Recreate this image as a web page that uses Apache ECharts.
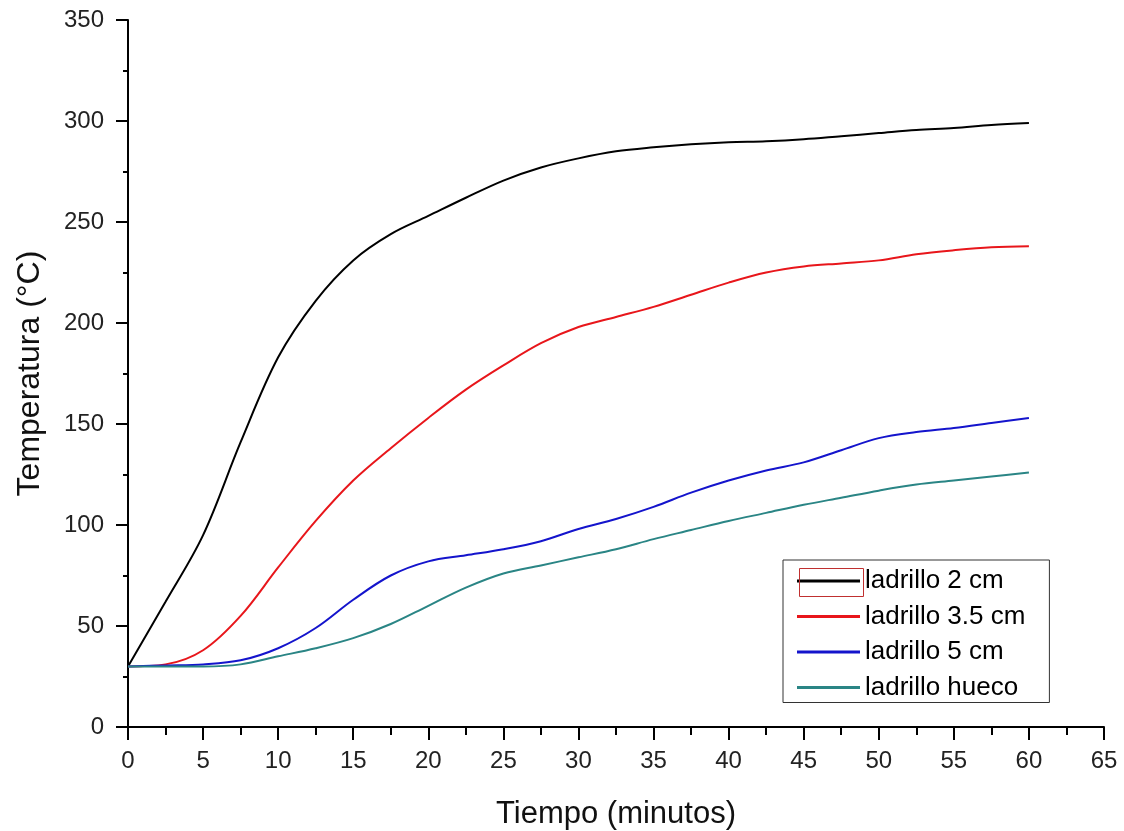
<!DOCTYPE html>
<html>
<head>
<meta charset="utf-8">
<script src="https://cdn.jsdelivr.net/npm/echarts@6/dist/echarts.min.js"></script>
<style>
html,body{margin:0;padding:0;background:#fff;}
#chart{width:1124px;height:831px;}
</style>
</head>
<body>
<div id="chart"></div>
<script>
const times = [0, 2.5, 5, 7.5, 10, 12.5, 15, 17.5, 20, 22.5, 25, 27.5, 30, 32.5, 35, 37.5, 40, 42.5, 45, 47.5, 50, 52.5, 55, 57.5, 60];
const ladrillo2 = [30, 62, 95, 141, 183, 211, 231, 244, 253, 262, 270.5, 277, 281.5, 285, 287, 288.5, 289.5, 290, 291, 292.5, 294, 295.5, 296.5, 298, 299];
const ladrillo35 = [30, 31, 38, 55, 79, 102, 122, 138, 153, 167, 179, 190, 198, 203, 208, 214, 220, 225, 228, 229.5, 231, 234, 236, 237.5, 238];
const ladrillo5 = [30, 30.5, 31, 33, 39, 49, 63, 75, 82, 85, 88, 92, 98, 103, 109, 116, 122, 127, 131, 137, 143, 146, 148, 150.5, 153];
const ladrilloHueco = [30, 30, 30, 31, 35, 39, 44, 51, 60, 69, 76, 80, 84, 88, 93, 97.5, 102, 106, 110, 113.5, 117, 120, 122, 124, 126];
const seriesNames = ['ladrillo 2 cm', 'ladrillo 3.5 cm', 'ladrillo 5 cm', 'ladrillo hueco'];
const xTitle = 'Tiempo (minutos)';
const yTitle = 'Temperatura (°C)';

const colors = ['#000000', '#e8161b', '#1414cc', '#2a8585'];
const allData = [ladrillo2, ladrillo35, ladrillo5, ladrilloHueco];

const chart = echarts.init(document.getElementById('chart'), null, {renderer: 'canvas'});
const font = 'Liberation Sans, Arial, sans-serif';
chart.setOption({
  animation: false,
  backgroundColor: '#ffffff',
  grid: {left: 128, right: 20, top: 20, bottom: 104, containLabel: false, outerBoundsMode: 'none'},
  xAxis: {
    type: 'value', min: 0, max: 65, interval: 5,
    name: xTitle, nameLocation: 'middle', nameGap: 72,
    nameTextStyle: {fontFamily: font, fontSize: 31, color: '#111'},
    axisLine: {show: true, lineStyle: {color: '#000', width: 2}},
    axisTick: {show: true, inside: false, length: 13, lineStyle: {color: '#000', width: 2}},
    minorTick: {show: true, splitNumber: 2, length: 8, lineStyle: {color: '#000', width: 2}},
    axisLabel: {fontFamily: font, fontSize: 24, color: '#222', margin: 22},
    splitLine: {show: false}
  },
  yAxis: {
    type: 'value', min: 0, max: 350, interval: 50,
    name: yTitle, nameLocation: 'middle', nameGap: 82, nameRotate: 90,
    nameTextStyle: {fontFamily: font, fontSize: 32, color: '#111'},
    axisLine: {show: true, lineStyle: {color: '#000', width: 2}},
    axisTick: {show: true, inside: false, length: 12, lineStyle: {color: '#000', width: 2}},
    minorTick: {show: true, splitNumber: 2, length: 5, lineStyle: {color: '#000', width: 2}},
    axisLabel: {fontFamily: font, fontSize: 24, color: '#222', margin: 24},
    splitLine: {show: false}
  },
  legend: {
    orient: 'vertical', left: 783, top: 560,
    padding: [8, 24, 2, 14],
    borderColor: '#333', borderWidth: 1,
    itemWidth: 63, itemHeight: 3, itemGap: 9.5,
    icon: 'rect',
    textStyle: {fontFamily: font, fontSize: 26, lineHeight: 26, color: '#000'},
    data: seriesNames
  },
  graphic: [{
    type: 'rect', left: 797, top: 566, z: 100,
    shape: {width: 64, height: 28},
    style: {fill: 'none', stroke: '#c03030', lineWidth: 1}
  }],
  series: seriesNames.map((n, i) => ({
    name: n, type: 'line', smooth: 0.35, symbol: 'none',
    data: times.map((t, k) => [t, allData[i][k]]),
    lineStyle: {color: colors[i], width: 2},
    itemStyle: {color: colors[i]}
  }))
});
</script>
</body>
</html>
